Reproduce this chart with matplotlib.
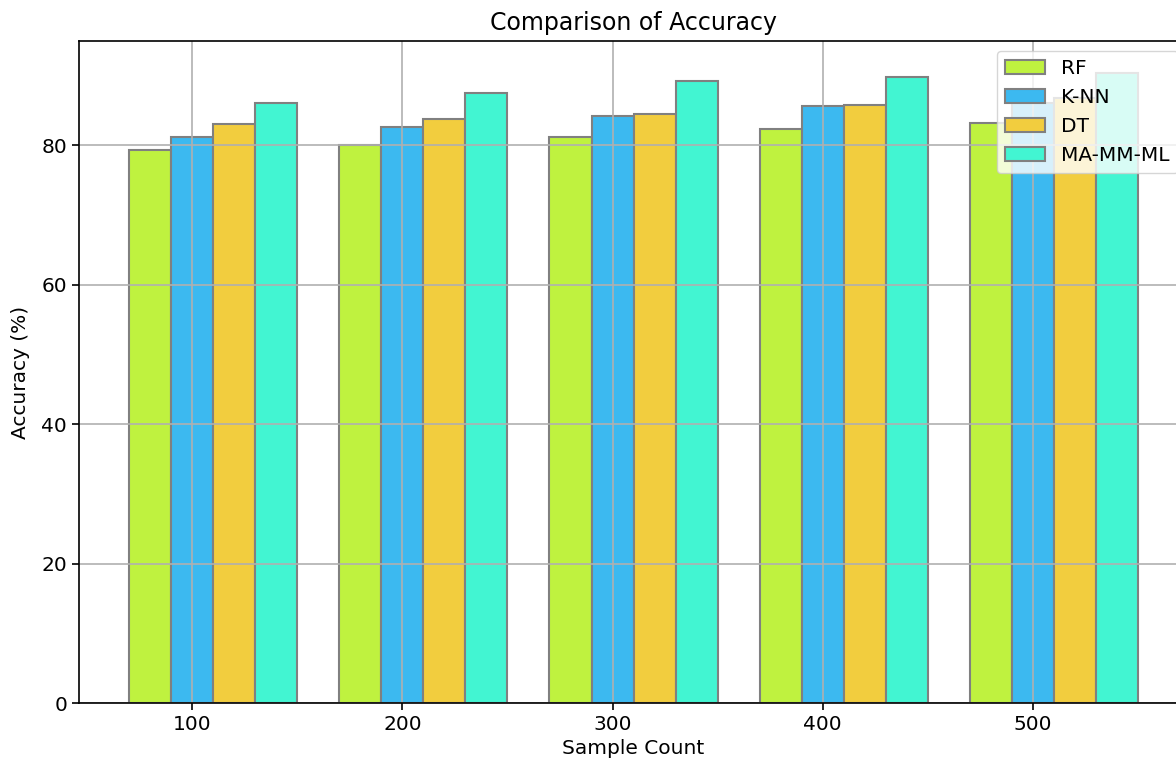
import numpy as np
import matplotlib
matplotlib.use('Agg')
import matplotlib.pyplot as plt

samples = ['100', '200', '300', '400', '500']
models = ['RF', 'K-NN', 'DT', 'MA-MM-ML']
rf = [79.3, 80.0, 81.2, 82.3, 83.2]
knn = [81.2, 82.6, 84.2, 85.6, 86.0]
dt = [83.0, 83.7, 84.4, 85.8, 86.8]
ma = [86.0, 87.4, 89.2, 89.7, 90.4]
colors = ['#bff23f', '#3cb9f0', '#f2cd3e', '#42f5d2']

fs = 14.5
w = 0.2
r = np.arange(len(samples))

fig = plt.figure(figsize=(11.76, 7.68), dpi=100)
# axes run off the right edge, like in the cropped reference
ax = fig.add_axes([0.0672, 0.0846, 0.9430, 0.8620])

for i, vals in enumerate([rf, knn, dt, ma]):
    ax.bar(r + i * w, vals, width=w, color=colors[i], edgecolor='grey',
           linewidth=1.5, label=models[i])

ax.set_xticks(r + w)
ax.set_xticklabels(samples, fontsize=fs)
ax.tick_params(axis='y', labelsize=fs)
ax.tick_params(width=1.2, length=5)
ax.set_xlabel('Sample Count', fontsize=fs)
ax.set_ylabel('Accuracy (%)', fontsize=fs, labelpad=8)
ax.set_title('Comparison of Accuracy', fontsize=17, pad=8)
ax.grid(True, color='#b0b0b0', linewidth=1.2)
for s in ax.spines.values():
    s.set_linewidth(1.2)
ax.legend(fontsize=fs, loc='upper right')

fig.savefig('out.png', dpi=100)
